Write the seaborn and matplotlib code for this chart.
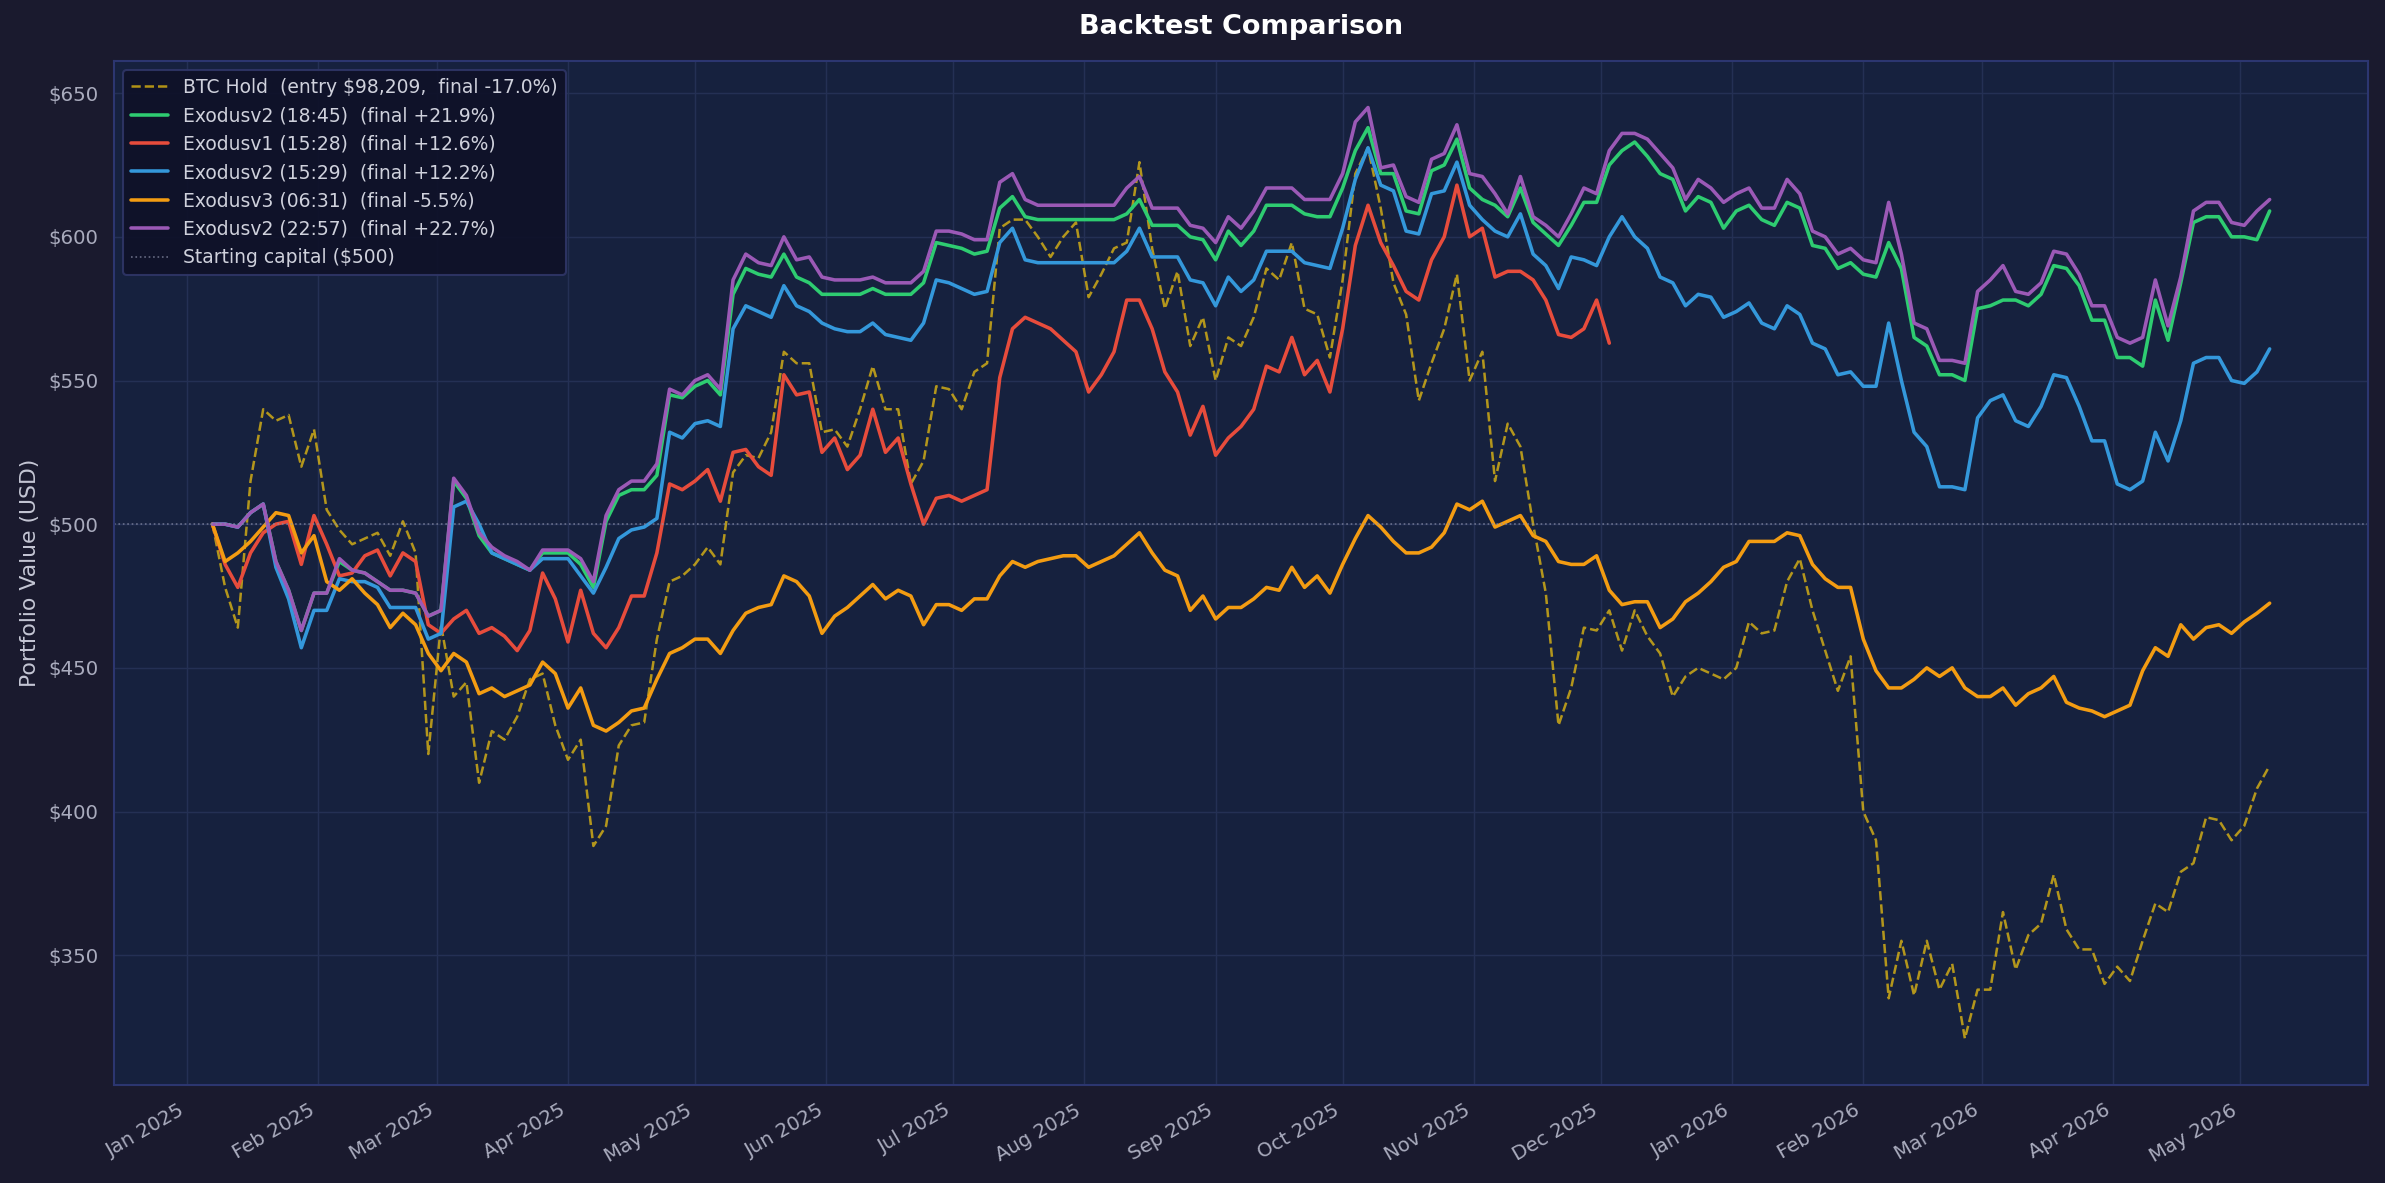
import pandas as pd
import numpy as np
import seaborn as sns
import matplotlib.pyplot as plt
import matplotlib.dates as mdates
from matplotlib.ticker import FuncFormatter

# 3-day samples, 2025-01-07 .. 2026-05-08
dates = pd.date_range("2025-01-07", periods=163, freq="3D")

btc_hold = [
    500, 478, 464, 515, 540, 536, 538, 520, 533, 505, 498, 493, 495, 497, 489, 501,
    490, 420, 465, 440, 445, 410, 428, 425, 433, 446, 448, 430, 418, 425, 388,
    395, 423, 430, 431, 460, 480, 482, 486, 492, 486, 518, 524, 523, 532, 560, 556,
    556, 532, 533, 527, 540, 555, 540, 540, 514, 522, 548, 547, 540, 553,
    556, 603, 606, 606, 600, 593, 600, 605, 579, 587, 596, 598, 626, 596, 575, 588,
    562, 572, 550, 565, 562, 572, 589, 585, 598, 575, 573, 558, 585, 622, 631, 610, 584, 573,
    543, 556, 568, 587, 550, 560, 515, 535, 527, 500, 476, 430, 443, 464, 463, 470,
    456, 470, 461, 455, 440, 447, 450, 448, 446, 450, 466, 462, 463, 480, 488, 470, 456, 442,
    454, 400, 390, 335, 355, 336, 355, 338, 347, 321, 338, 338, 365, 345, 357, 361,
    378, 359, 352, 352, 340, 346, 341, 355, 368, 365, 379, 382, 398, 397, 390, 395, 408, 416,
]

exo2_1845 = [
    500, 500, 499, 504, 507, 487, 477, 463, 476, 476, 487, 484, 483, 480, 477, 477,
    476, 468, 470, 515, 509, 496, 490, 488, 486, 484, 490, 490, 490, 486, 478,
    501, 510, 512, 512, 517, 545, 544, 548, 550, 545, 580, 589, 587, 586, 594, 586,
    584, 580, 580, 580, 580, 582, 580, 580, 580, 584, 598, 597, 596, 594,
    595, 610, 614, 607, 606, 606, 606, 606, 606, 606, 606, 608, 613, 604, 604, 604,
    600, 599, 592, 602, 597, 602, 611, 611, 611, 608, 607, 607, 617, 630, 638, 622, 622, 609,
    608, 623, 625, 634, 617, 613, 611, 607, 617, 605, 601, 597, 604, 612, 612, 625,
    630, 633, 628, 622, 620, 609, 614, 612, 603, 609, 611, 606, 604, 612, 610, 597, 596, 589,
    591, 587, 586, 598, 589, 565, 562, 552, 552, 550, 575, 576, 578, 578, 576, 580,
    590, 589, 583, 571, 571, 558, 558, 555, 578, 564, 584, 605, 607, 607, 600, 600, 599, 609,
]

# Exodusv1 stops early (Dec 2025)
exo1_1528 = [
    500, 486, 478, 490, 497, 500, 501, 486, 503, 493, 482, 483, 489, 491, 482, 490,
    487, 465, 462, 467, 470, 462, 464, 461, 456, 463, 483, 474, 459, 477, 462,
    457, 464, 475, 475, 490, 514, 512, 515, 519, 508, 525, 526, 520, 517, 552, 545,
    546, 525, 530, 519, 524, 540, 525, 530, 514, 500, 509, 510, 508, 510,
    512, 551, 568, 572, 570, 568, 564, 560, 546, 552, 560, 578, 578, 568, 553, 546,
    531, 541, 524, 530, 534, 540, 555, 553, 565, 552, 557, 546, 568, 597, 611, 598, 590, 581,
    578, 592, 600, 618, 600, 603, 586, 588, 588, 585, 578, 566, 565, 568, 578, 563,
]

exo2_1529 = [
    500, 500, 499, 504, 507, 485, 474, 457, 470, 470, 481, 480, 480, 478, 471, 471,
    471, 460, 462, 506, 508, 500, 490, 488, 486, 484, 488, 488, 488, 482, 476,
    485, 495, 498, 499, 502, 532, 530, 535, 536, 534, 568, 576, 574, 572, 583, 576,
    574, 570, 568, 567, 567, 570, 566, 565, 564, 570, 585, 584, 582, 580,
    581, 598, 603, 592, 591, 591, 591, 591, 591, 591, 591, 595, 603, 593, 593, 593,
    585, 584, 576, 586, 581, 585, 595, 595, 595, 591, 590, 589, 603, 620, 631, 618, 616, 602,
    601, 615, 616, 626, 611, 606, 602, 600, 608, 594, 590, 582, 593, 592, 590, 600,
    607, 600, 596, 586, 584, 576, 580, 579, 572, 574, 577, 570, 568, 576, 573, 563, 561, 552,
    553, 548, 548, 570, 550, 532, 527, 513, 513, 512, 537, 543, 545, 536, 534, 541,
    552, 551, 541, 529, 529, 514, 512, 515, 532, 522, 536, 556, 558, 558, 550, 549, 553, 561,
]

exo3_0631 = [
    500, 487, 490, 494, 499, 504, 503, 490, 496, 480, 477, 481, 476, 472, 464, 469,
    465, 455, 449, 455, 452, 441, 443, 440, 442, 444, 452, 448, 436, 443, 430,
    428, 431, 435, 436, 446, 455, 457, 460, 460, 455, 463, 469, 471, 472, 482, 480,
    475, 462, 468, 471, 475, 479, 474, 477, 475, 465, 472, 472, 470, 474,
    474, 482, 487, 485, 487, 488, 489, 489, 485, 487, 489, 493, 497, 490, 484, 482,
    470, 475, 467, 471, 471, 474, 478, 477, 485, 478, 482, 476, 486, 495, 503, 499, 494, 490,
    490, 492, 497, 507, 505, 508, 499, 501, 503, 496, 494, 487, 486, 486, 489, 477,
    472, 473, 473, 464, 467, 473, 476, 480, 485, 487, 494, 494, 494, 497, 496, 486, 481, 478,
    478, 460, 449, 443, 443, 446, 450, 447, 450, 443, 440, 440, 443, 437, 441, 443,
    447, 438, 436, 435, 433, 435, 437, 449, 457, 454, 465, 460, 464, 465, 462, 466, 469, 472.5,
]

exo2_2257 = [
    500, 500, 499, 504, 507, 487, 477, 463, 476, 476, 488, 484, 483, 480, 477, 477,
    476, 468, 470, 516, 510, 497, 492, 489, 487, 484, 491, 491, 491, 488, 480,
    503, 512, 515, 515, 521, 547, 545, 550, 552, 547, 585, 594, 591, 590, 600, 592,
    593, 586, 585, 585, 585, 586, 584, 584, 584, 588, 602, 602, 601, 599,
    599, 619, 622, 613, 611, 611, 611, 611, 611, 611, 611, 617, 621, 610, 610, 610,
    604, 603, 598, 607, 603, 609, 617, 617, 617, 613, 613, 613, 622, 640, 645, 624, 625, 614,
    612, 627, 629, 639, 622, 621, 615, 608, 621, 607, 604, 600, 608, 617, 615, 630,
    636, 636, 634, 629, 624, 613, 620, 617, 612, 615, 617, 610, 610, 620, 615, 602, 600, 594,
    596, 592, 591, 612, 594, 570, 568, 557, 557, 556, 581, 585, 590, 581, 580, 584,
    595, 594, 587, 576, 576, 565, 563, 565, 585, 569, 586, 609, 612, 612, 605, 604, 609, 613,
]

labels = [
    "BTC Hold  (entry $98,209,  final -17.0%)",
    "Exodusv2 (18:45)  (final +21.9%)",
    "Exodusv1 (15:28)  (final +12.6%)",
    "Exodusv2 (15:29)  (final +12.2%)",
    "Exodusv3 (06:31)  (final -5.5%)",
    "Exodusv2 (22:57)  (final +22.7%)",
]
series = [btc_hold, exo2_1845, exo1_1528, exo2_1529, exo3_0631, exo2_2257]
colors = ["#f1c40f", "#2ecc71", "#e74c3c", "#3498db", "#f39c12", "#9b59b6"]
START_CAPITAL = 500

BG = "#1a1a2e"
AX_BG = "#16213e"
TXT = "#a9abbd"

sns.set_theme(style="darkgrid")
plt.rcParams["font.family"] = ["DejaVu Sans"]

fig = plt.figure(figsize=(15.9, 7.887), dpi=150, facecolor=BG)
ax = fig.add_axes([0.0478, 0.0828, 0.9451, 0.8656])
ax.set_facecolor(AX_BG)

for vals, lab, col in zip(series, labels, colors):
    d = dates[:len(vals)]
    if lab.startswith("BTC"):
        sns.lineplot(x=d, y=vals, ax=ax, color=col, linewidth=1.2, linestyle="--",
                     alpha=0.72, label=lab)
    else:
        sns.lineplot(x=d, y=vals, ax=ax, color=col, linewidth=1.7, label=lab)

ax.axhline(START_CAPITAL, color="#8a8fa8", linestyle=":", linewidth=0.8, alpha=0.7,
           label="Starting capital ($500)")

ax.set_xlim(pd.Timestamp("2024-12-14 18:00"), pd.Timestamp("2026-05-31 06:00"))

ax.set_title("Backtest Comparison", color="white", fontsize=13, fontweight="bold", pad=13)
ax.set_ylabel("Portfolio Value (USD)", color="#c4c6d4", fontsize=10.5)
ax.set_xlabel("")

ax.yaxis.set_major_formatter(FuncFormatter(lambda v, p: f"${v:,.0f}"))
ax.xaxis.set_major_locator(mdates.MonthLocator())
ax.xaxis.set_major_formatter(mdates.DateFormatter("%b %Y"))
ax.tick_params(colors=TXT, labelsize=9.5, length=4, width=0.8)
for lbl in ax.get_xticklabels():
    lbl.set_rotation(30)
    lbl.set_ha("right")

ax.grid(True, color="#243054", linewidth=0.7)
for sp in ax.spines.values():
    sp.set_visible(True)
    sp.set_color("#2c3670")
    sp.set_linewidth(1.0)

leg = ax.legend(loc="upper left", fontsize=9, labelspacing=0.5, facecolor="#0f1128",
                edgecolor="#2f3566", framealpha=0.92)
for t in leg.get_texts():
    t.set_color("#cfd1dc")

fig.savefig("out.png", dpi=150, facecolor=BG)
